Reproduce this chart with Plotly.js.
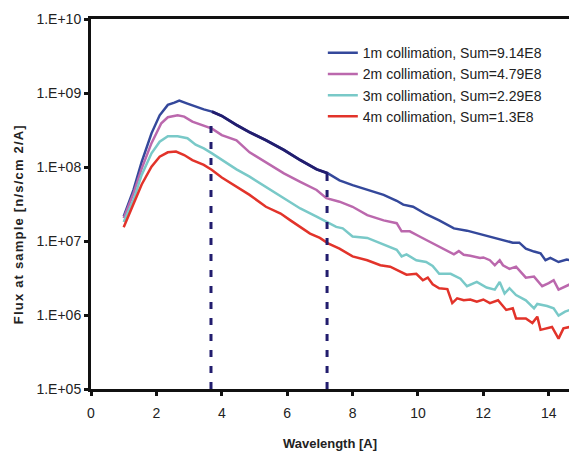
<!DOCTYPE html>
<html>
<head>
<meta charset="utf-8">
<script src="https://cdn.plot.ly/plotly-3.0.1.min.js"></script>
<style>
html,body{margin:0;padding:0;background:#fff;}
#chart{width:569px;height:452px;}
#chart .annotation-text{letter-spacing:1.2px;}
</style>
</head>
<body>
<div id="chart"></div>
<script>
// ---- data ----
const seriesNames = [
  "1m collimation, Sum=9.14E8",
  "2m collimation, Sum=4.79E8",
  "3m collimation, Sum=2.29E8",
  "4m collimation, Sum=1.3E8"
];

const x1m = [1.0,1.3,1.55,1.85,2.1,2.35,2.55,2.7,2.95,3.2,3.45,3.7,4.0,4.45,4.85,5.35,5.9,6.4,6.9,7.25,7.6,8.0,8.45,8.95,9.35,9.55,9.85,10.25,10.65,11.1,11.5,11.9,12.3,12.7,12.9,13.1,13.3,13.55,13.75,13.9,14.05,14.3,14.55,14.65];
const y1m = [2.14e7,4.9e7,1.17e8,2.85e8,5.0e8,6.9e8,7.4e8,7.9e8,7.2e8,6.5e8,6.0e8,5.6e8,4.9e8,3.7e8,2.95e8,2.3e8,1.7e8,1.24e8,9.3e7,8.2e7,6.6e7,5.7e7,4.9e7,4.2e7,3.5e7,3.1e7,2.9e7,2.3e7,1.9e7,1.48e7,1.38e7,1.24e7,1.12e7,1.02e7,9.5e6,9.5e6,7.9e6,7.2e6,6.8e6,5.5e6,5.9e6,5.2e6,5.6e6,5.5e6];

const x2m = [1.0,1.3,1.55,1.85,2.15,2.35,2.65,2.85,3.1,3.4,3.7,4.0,4.45,4.85,5.35,5.9,6.4,6.9,7.2,7.6,8.0,8.45,8.95,9.35,9.5,9.75,10.05,10.45,10.75,11.1,11.25,11.4,11.6,11.9,12.0,12.2,12.35,12.5,12.6,12.8,13.0,13.15,13.3,13.55,13.8,14.0,14.15,14.3,14.45,14.65];
const y2m = [2.04e7,4.4e7,9.5e7,2.1e8,3.9e8,4.7e8,5.0e8,4.8e8,4.1e8,3.7e8,3.3e8,2.7e8,2.3e8,1.58e8,1.17e8,8.2e7,6.3e7,4.9e7,3.8e7,3.4e7,2.9e7,2.24e7,1.9e7,1.74e7,1.35e7,1.35e7,1.15e7,9.3e6,7.9e6,6.6e6,7.3e6,6.5e6,6.3e6,5.9e6,6.0e6,5.5e6,4.7e6,5.5e6,4.7e6,4.2e6,4.5e6,3.85e6,3.2e6,3.3e6,2.45e6,2.7e6,2.95e6,2.2e6,2.35e6,2.6e6];

const x3m = [1.0,1.3,1.55,1.85,2.1,2.35,2.65,2.95,3.2,3.45,3.7,4.0,4.45,4.85,5.35,5.9,6.4,6.9,7.2,7.5,7.7,8.0,8.45,8.95,9.35,9.5,9.65,9.95,10.25,10.45,10.65,11.0,11.3,11.5,11.8,12.1,12.35,12.5,12.65,12.8,13.0,13.3,13.55,13.65,13.95,14.15,14.3,14.5,14.65];
const y3m = [1.8e7,3.6e7,7.8e7,1.53e8,2.2e8,2.6e8,2.6e8,2.45e8,2.0e8,1.78e8,1.53e8,1.24e8,9.3e7,7.4e7,5.4e7,3.8e7,2.75e7,2.14e7,1.8e7,1.55e7,1.48e7,1.15e7,1.1e7,8.9e6,7.6e6,6.2e6,6.6e6,5.5e6,5.2e6,4.6e6,3.6e6,3.6e6,3.1e6,2.45e6,2.8e6,2.35e6,2.2e6,2.8e6,1.95e6,2.3e6,1.86e6,1.58e6,1.23e6,1.41e6,1.32e6,1.23e6,9.8e5,1.11e6,1.17e6];

const x4m = [1.0,1.3,1.55,1.85,2.1,2.35,2.6,2.85,3.1,3.45,3.7,4.0,4.45,4.85,5.35,5.8,6.1,6.4,6.7,7.0,7.25,7.6,8.0,8.45,8.85,9.15,9.45,9.65,9.95,10.15,10.3,10.45,10.65,10.9,11.05,11.2,11.4,11.6,11.8,12.0,12.2,12.45,12.7,12.9,13.0,13.3,13.5,13.65,13.75,13.95,14.1,14.3,14.45,14.65];
const y4m = [1.53e7,3.1e7,5.8e7,1.01e8,1.38e8,1.58e8,1.62e8,1.45e8,1.24e8,1.07e8,9.1e7,7.2e7,5.4e7,4.2e7,2.9e7,2.35e7,1.9e7,1.55e7,1.26e7,1.1e7,9.3e6,7.9e6,6.2e6,5.5e6,4.7e6,4.5e6,3.85e6,3.5e6,3.6e6,2.95e6,3.2e6,2.6e6,2.3e6,2.24e6,1.45e6,1.68e6,1.58e6,1.62e6,1.51e6,1.62e6,1.45e6,1.58e6,1.17e6,1.23e6,9.0e5,9.0e5,7.8e5,9.5e5,6.3e5,6.6e5,6.9e5,4.8e5,6.6e5,6.9e5];

// dashed markers (wavelength, top flux)
const markerX = [3.67, 7.22];
const markerTop = [3.9e8, 8.3e7];

const xTickVals = [0,2,4,6,8,10,12,14];
const yTickVals = [1e5,1e6,1e7,1e8,1e9,1e10];
const yTickText = ["1.E+05","1.E+06","1.E+07","1.E+08","1.E+09","1.E+10"];

// ---- styling ----
const colors = ["#34489b","#bb68ad","#79c9c8","#e2332a"];
const navy = "#221d6e";

const xs = [x1m,x2m,x3m,x4m];
const ys = [y1m,y2m,y3m,y4m];

const traces = [];
for (let i = 0; i < 4; i++) {
  traces.push({
    x: xs[i], y: ys[i], type: "scatter", mode: "lines",
    name: seriesNames[i], legendgroup: "g" + i,
    line: {color: colors[i], width: 2.5},
    hoverinfo: "skip"
  });
}
// highlighted portion of 1m curve between the dashed lines
const hx = [], hy = [];
x1m.forEach((v, k) => { if (v >= markerX[0] - 0.05 && v <= markerX[1] + 0.05) { hx.push(v); hy.push(y1m[k]); } });
traces.push({x: hx, y: hy, type: "scatter", mode: "lines", showlegend: false,
  line: {color: navy, width: 2.8}, hoverinfo: "skip"});

// dashed vertical lines
for (let j = 0; j < markerX.length; j++) {
  traces.push({x: [markerX[j], markerX[j]], y: [1e5, markerTop[j]], type: "scatter", mode: "lines",
    showlegend: false, line: {color: navy, width: 3, dash: "7px,9px"}, hoverinfo: "skip"});
}

const layout = {
  width: 569, height: 452,
  margin: {l: 91, r: 0, t: 19, b: 63},
  paper_bgcolor: "#fff", plot_bgcolor: "#fff",
  font: {family: "Liberation Sans, Arial, sans-serif", color: "#222", size: 13},
  showlegend: true,
  legend: {x: 0.485, y: 0.951, xanchor: "left", yanchor: "top",
    bgcolor: "rgba(0,0,0,0)", font: {size: 14, color: "#222"}, tracegroupgap: 0},
  xaxis: {
    range: [0, 14.62], tickvals: xTickVals, ticks: "outside", ticklen: 4, tickwidth: 3,
    tickcolor: "#111", showline: true, linecolor: "#111", linewidth: 3, mirror: true,
    showgrid: false, zeroline: false, tickfont: {size: 14, color: "#222"}, ticklabelstandoff: 5,
    title: {text: "<b>Wavelength [A]</b>", font: {size: 13, color: "#222"}, standoff: 20}
  },
  yaxis: {
    type: "log", range: [5, 10], tickvals: yTickVals, ticktext: yTickText,
    ticks: "outside", ticklen: 4, tickwidth: 3, tickcolor: "#111",
    showline: true, linecolor: "#111", linewidth: 3, showgrid: false, zeroline: false,
    tickfont: {size: 14, color: "#222"}
  },
  annotations: [{
    text: "<b>Flux at sample [n/s/cm 2/A]</b>", textangle: -90,
    xref: "paper", yref: "paper", x: -0.1506, y: 0.446, xanchor: "center", yanchor: "middle",
    showarrow: false, font: {size: 13, color: "#222"}
  }]
};

Plotly.newPlot("chart", traces, layout, {staticPlot: true, displayModeBar: false});
</script>
</body>
</html>
